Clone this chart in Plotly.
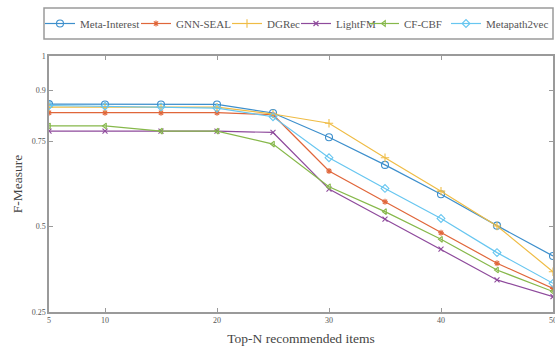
import plotly.graph_objects as go

topn = [5, 10, 15, 20, 25, 30, 35, 40, 45, 50]

meta_interest = [0.859, 0.858, 0.858, 0.858, 0.833, 0.762, 0.681, 0.595, 0.503, 0.414]
gnn_seal      = [0.834, 0.834, 0.834, 0.834, 0.828, 0.663, 0.573, 0.482, 0.393, 0.319]
dgrec         = [0.850, 0.850, 0.850, 0.850, 0.830, 0.803, 0.702, 0.604, 0.502, 0.368]
lightfm       = [0.780, 0.780, 0.780, 0.780, 0.776, 0.610, 0.522, 0.434, 0.344, 0.295]
cf_cbf        = [0.795, 0.795, 0.780, 0.780, 0.742, 0.617, 0.544, 0.463, 0.373, 0.310]
metapath2vec  = [0.855, 0.853, 0.851, 0.847, 0.822, 0.702, 0.612, 0.524, 0.424, 0.334]

names = ["Meta-Interest", "GNN-SEAL", "DGRec", "LightFM", "CF-CBF", "Metapath2vec"]
series = [meta_interest, gnn_seal, dgrec, lightfm, cf_cbf, metapath2vec]
colors = ["#3d8fcc", "#e0663a", "#efbc45", "#8e4a9c", "#86b84a", "#67c6f0"]
symbols = ["circle-open", "asterisk-open", "cross-thin-open", "x-thin-open",
           "triangle-left-open", "diamond-open"]
msizes = [7, 5, 6, 5, 5, 6]

x_ticks = [5, 10, 20, 30, 40, 50]
y_ticks = [0.25, 0.5, 0.75, 0.9, 1]
y_ticktext = ["0.25", "0.5", "0.75", "0.9", "1"]

W, H = 555, 347
# horizontal pixel where each legend entry's text starts
legend_text_px = [81, 177, 268, 337, 405, 487]
legend_ids = ["legend", "legend2", "legend3", "legend4", "legend5", "legend6"]

fig = go.Figure()
for n, s, c, sym, ms, lid in zip(names, series, colors, symbols, msizes, legend_ids):
    fig.add_trace(go.Scatter(
        x=topn, y=s, name=n, mode="lines+markers", legend=lid,
        line=dict(color=c, width=1.2),
        marker=dict(symbol=sym, size=ms, color=c, line=dict(color=c, width=1.1)),
    ))

axis_common = dict(
    showgrid=False, zeroline=False, showline=True, linecolor="#9a9a9a",
    linewidth=1.5, mirror="ticks", ticks="inside", ticklen=4, tickcolor="#9a9a9a",
    tickfont=dict(family="Liberation Serif", size=8, color="#555"),
    ticklabeloverflow="allow",
)

legends = {}
for lid, tx in zip(legend_ids, legend_text_px):
    legends[lid] = dict(
        orientation="h", xref="container", yref="container",
        x=(tx - 41) / W, xanchor="left", y=1 - 23.5 / H, yanchor="middle",
        font=dict(family="Liberation Serif", size=11, color="#555"),
        borderwidth=0, bgcolor="rgba(0,0,0,0)", itemwidth=30,
    )

fig.update_layout(
    width=W, height=H,
    margin=dict(l=49, r=2, t=56, b=35, autoexpand=False),
    paper_bgcolor="white", plot_bgcolor="white",
    showlegend=True,
    xaxis=dict(range=[5, 50], tickvals=x_ticks, **axis_common,
               title=dict(text="Top-N recommended items", standoff=9,
                          font=dict(family="Liberation Serif", size=13.5, color="#444"))),
    yaxis=dict(range=[0.25, 1], tickvals=y_ticks, ticktext=y_ticktext, **axis_common,
               title=dict(text="F-Measure", standoff=6,
                          font=dict(family="Liberation Serif", size=13.5, color="#444"))),
    **legends,
)
# legend frame
fig.add_shape(type="rect", xref="paper", yref="paper",
              x0=(44 - 49) / 504, x1=(553 - 49) / 504,
              y0=(312 - 39) / 256, y1=(312 - 8) / 256,
              line=dict(color="#9a9a9a", width=1.5), layer="below")

fig.write_html("out.html", config={"displayModeBar": False},
               post_script="document.body.style.margin='0';")
